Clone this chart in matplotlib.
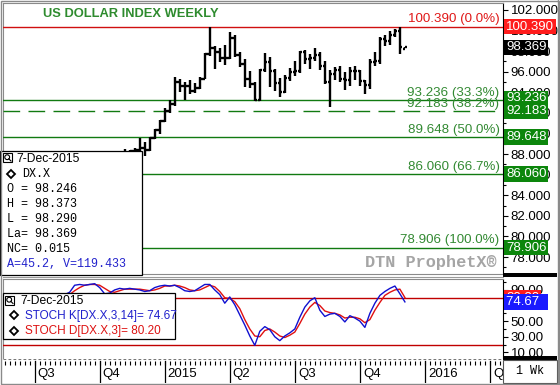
import matplotlib
matplotlib.use("Agg")
import matplotlib.pyplot as plt
import matplotlib.dates as mdates
import matplotlib.transforms as mtransforms
from matplotlib.ticker import MultipleLocator, FixedLocator, FormatStrFormatter
from matplotlib.patches import Rectangle, Circle
import pandas as pd

plt.rcParams["font.family"] = ["Liberation Sans", "DejaVu Sans"]

# Weekly bars (Monday dates) for the US dollar index
dates = pd.date_range("2014-05-19", "2015-12-07", freq="W-MON")
opens = [80.0, 80.4, 80.4, 80.6, 80.6, 80.4, 80.1, 80.2, 80.2, 80.6, 81.0, 81.4, 81.4, 81.4, 82.3,
         82.8, 84.0, 84.3, 84.8, 85.6, 86.7, 85.9, 85.2, 85.8, 86.9, 87.6, 87.6, 88.3, 88.4, 88.6,
         88.4, 89.6, 90.3, 91.2, 92.2, 92.9, 95.0, 94.6, 94.6, 94.1, 94.4, 95.3, 97.7, 98.3, 97.9,
         97.3, 97.3, 99.3, 97.6, 96.8, 95.3, 94.8, 93.3, 96.2, 96.9, 96.1, 94.9, 94.0, 95.4, 96.0,
         96.1, 97.9, 97.2, 97.3, 97.6, 96.6, 95.0, 95.8, 96.2, 95.3, 95.2, 96.1, 96.1, 95.1, 94.7,
         96.9, 97.0, 99.2, 99.0, 99.6, 100.0, 98.246]
highs = [80.4, 80.8, 80.8, 80.8, 80.9, 80.5, 80.4, 80.4, 80.7, 81.1, 81.5, 81.7, 81.7, 82.4, 82.8,
         84.1, 84.4, 84.9, 85.9, 86.8, 86.7, 86.2, 86.0, 86.9, 88.2, 88.5, 88.4, 88.6, 89.6, 89.2,
         89.7, 90.4, 91.3, 92.5, 93.3, 95.5, 95.3, 95.0, 95.2, 94.9, 95.5, 97.8, 100.39, 98.5, 98.3,
         98.6, 99.9, 99.6, 97.9, 97.2, 96.1, 95.0, 96.3, 97.8, 97.4, 96.3, 95.4, 95.7, 96.4, 97.0,
         98.0, 98.1, 97.7, 98.3, 97.9, 97.0, 96.2, 96.5, 96.6, 96.0, 96.5, 96.6, 96.2, 95.2, 97.2,
         97.9, 99.4, 99.6, 100.0, 100.2, 100.35, 98.373]
lows = [79.9, 80.3, 80.1, 80.3, 80.3, 80.0, 79.8, 80.0, 80.1, 80.5, 80.9, 81.2, 81.3, 81.3, 82.2,
        82.7, 83.9, 83.9, 84.8, 85.3, 85.2, 84.5, 85.0, 85.4, 86.8, 87.5, 87.6, 87.7, 87.7, 87.8,
        88.3, 89.5, 90.0, 91.1, 92.0, 92.7, 94.0, 93.3, 93.8, 93.9, 94.3, 95.3, 97.5, 96.3, 96.9,
        96.7, 97.2, 97.4, 96.5, 94.5, 94.4, 93.2, 93.2, 96.0, 94.5, 94.1, 93.5, 93.9, 95.1, 95.6,
        95.9, 96.8, 96.3, 97.0, 96.2, 94.8, 92.6, 95.2, 95.0, 94.2, 94.6, 95.2, 94.6, 93.8, 94.3,
        96.6, 96.8, 98.5, 98.6, 99.4, 97.7, 98.290]
closes = [80.4, 80.4, 80.6, 80.6, 80.4, 80.1, 80.2, 80.2, 80.6, 81.0, 81.4, 81.4, 81.4, 82.3, 82.8,
          84.0, 84.3, 84.8, 85.6, 86.7, 85.9, 85.2, 85.8, 86.9, 87.6, 87.6, 88.3, 88.4, 88.6, 88.4,
          89.6, 90.3, 91.2, 92.2, 92.9, 95.0, 94.6, 94.6, 94.1, 94.4, 95.3, 97.7, 98.3, 97.9, 97.3,
          97.3, 99.3, 97.6, 96.8, 95.3, 94.8, 93.3, 96.2, 96.9, 96.1, 94.9, 94.0, 95.4, 96.0, 96.1,
          97.9, 97.2, 97.3, 97.6, 96.6, 95.0, 95.8, 96.2, 95.3, 95.2, 96.1, 96.1, 95.1, 94.7, 96.9,
          97.0, 99.2, 99.0, 99.6, 100.0, 98.4, 98.369]

# Stochastic %K (14,3) and %D (3)
stoch_k = [55, 62, 66, 70, 64, 52, 45, 46, 58, 70, 78, 80, 80, 84, 87,
           96, 97, 96, 97, 98, 93, 85, 86, 90, 92, 91, 92, 91, 90, 88,
           89, 93, 95, 96, 95, 96, 93, 89, 88, 89, 93, 97, 97, 90, 84,
           73, 81, 71, 58, 45, 31, 19, 37, 43, 39, 30, 25, 31, 35, 40,
           55, 68, 76, 80, 64, 56, 59, 60, 56, 49, 57, 54, 50, 42, 60,
           73, 83, 88, 92, 95, 85, 74.67]
stoch_d = [50, 56, 61, 66, 67, 62, 54, 48, 50, 58, 69, 76, 79, 81, 84,
           89, 93, 96, 97, 97, 96, 92, 88, 87, 89, 91, 91, 91, 91, 90,
           89, 90, 92, 95, 95, 96, 95, 93, 90, 89, 90, 93, 96, 94, 88,
           80, 79, 75, 66, 52, 40, 31, 30, 38, 40, 36, 31, 29, 32, 36,
           47, 59, 68, 74, 70, 63, 61, 60, 58, 54, 55, 55, 53, 48, 52,
           64, 74, 83, 87, 90, 91, 80.20]

fib_levels = [100.390, 93.236, 92.183, 89.648, 86.060, 78.906]
fib_pcts = ["0.0%", "33.3%", "38.2%", "50.0%", "66.7%", "100.0%"]
last_price = 98.369

quarter_starts = ["2014-07-07", "2014-10-06", "2015-01-05", "2015-04-06",
                  "2015-07-06", "2015-10-05", "2016-01-04", "2016-04-04"]
quarter_labels = ["Q3", "Q4", "2015", "Q2", "Q3", "Q4", "2016", "Q2"]

info_lines = ["O = 98.246", "H = 98.373", "L = 98.290", "La= 98.369", "NC= 0.015"]

# colours
GREEN_LINE = "#117a11"
GREEN_TEXT = "#338a33"
GREEN_TAG = "#0c860c"
RED_LINE = "#d01010"
RED_TEXT = "#e01818"

W, H = 560, 385
fig = plt.figure(figsize=(W / 100, H / 100), dpi=100, facecolor="white")


def frame(left, top, right, bottom):
    return [left / W, 1 - bottom / H, (right - left) / W, (bottom - top) / H]


ax = fig.add_axes(frame(3, 3, 503, 274))
ax2 = fig.add_axes(frame(3, 279, 503, 359), sharex=ax)
ax3 = fig.add_axes(frame(3, 359, 503, 383), sharex=ax)

x = mdates.date2num(dates)
half = 3.2  # days for open/close ticks

# price bars
ax.vlines(x, lows, highs, color="black", lw=1.7, zorder=5)
ax.hlines(opens, x - half, x, color="black", lw=1.7, zorder=5)
ax.hlines(closes, x, x + half, color="black", lw=1.7, zorder=5)

ax.set_xlim(mdates.date2num(pd.Timestamp("2014-05-23 19:00")),
            mdates.date2num(pd.Timestamp("2016-04-22 05:00")))
ax.set_ylim(76.35, 102.68)

# fibonacci retracements
for lvl, pct in zip(fib_levels, fib_pcts):
    col = RED_LINE if pct == "0.0%" else GREEN_LINE
    tcol = RED_TEXT if pct == "0.0%" else GREEN_TEXT
    ls = (0, (12, 6)) if pct == "38.2%" else "-"
    ax.axhline(lvl, color=col, lw=1.0, ls=ls, zorder=3)
    ax.annotate("%.3f (%s)" % (lvl, pct), xy=(1, lvl), xycoords=("axes fraction", "data"),
                xytext=(-2.5, 3.2), textcoords="offset points", ha="right", va="baseline",
                color=tcol, fontsize=9.6, zorder=6)

# right price axis
ax.yaxis.tick_right()
ax.yaxis.set_major_locator(MultipleLocator(2))
ax.yaxis.set_minor_locator(MultipleLocator(1))
ax.yaxis.set_major_formatter(FormatStrFormatter("%.3f"))
ax.tick_params(axis="y", which="major", length=3.5, width=0.8, pad=2, labelsize=9.5, direction="out")
ax.tick_params(axis="y", which="minor", length=2, width=0.8)
ax.tick_params(axis="x", which="both", bottom=False, labelbottom=False)
for s in ["left", "top", "bottom"]:
    ax.spines[s].set_color("#8a8a8a")
ax.spines["right"].set_color("black")

blend = mtransforms.blended_transform_factory(ax.transAxes, ax.transData)
tag_nudge = {93.236: 0.17, 92.183: 0.0}


def tag(a, tr, v, text, fc, nudge=0.0, z=20):
    a.text(1.006, v + nudge, text, transform=tr, ha="left", va="center", color="white",
           fontsize=9.5, clip_on=False, zorder=z,
           bbox=dict(boxstyle="square,pad=0.13", fc=fc, ec="none"))


tag(ax, blend, fib_levels[0], "%.3f" % fib_levels[0], "#ff1c1c")
tag(ax, blend, last_price, "%.3f" % last_price, "black")
for lvl in fib_levels[1:]:
    tag(ax, blend, lvl, "%.3f" % lvl, GREEN_TAG, tag_nudge.get(lvl, 0.0))

# stochastic panel
ax2.plot(x, stoch_d, color="#e01010", lw=1.0, zorder=4)
ax2.plot(x, stoch_k, color="#1010d0", lw=1.0, zorder=5)
ax2.axhline(80, color="#c00000", lw=1.0, zorder=3)
ax2.axhline(20, color="#c00000", lw=1.0, zorder=3)
ax2.set_ylim(1.5, 104)
ax2.yaxis.tick_right()
ax2.yaxis.set_major_locator(FixedLocator([10, 30, 50, 70, 90]))
ax2.yaxis.set_minor_locator(FixedLocator([20, 40, 60, 80, 100]))
ax2.yaxis.set_major_formatter(FormatStrFormatter("%.2f"))
ax2.tick_params(axis="y", which="major", length=3.5, width=0.8, pad=2, labelsize=9.5)
ax2.tick_params(axis="y", which="minor", length=2, width=0.8)
ax2.tick_params(axis="x", which="both", bottom=False, labelbottom=False)
for s in ["left", "top"]:
    ax2.spines[s].set_color("#8a8a8a")
ax2.spines["bottom"].set_visible(False)
blend2 = mtransforms.blended_transform_factory(ax2.transAxes, ax2.transData)
tag(ax2, blend2, stoch_d[-1], "%.2f" % stoch_d[-1], "#ff1c1c", z=20)
tag(ax2, blend2, stoch_k[-1], "%.2f  " % stoch_k[-1], "#1a1aff", z=21)

# date strip
ax3.set_ylim(0, 1)
ax3.set_yticks([])
for s in ["left", "right", "bottom", "top"]:
    ax3.spines[s].set_visible(False)
ax3.axhline(0.98, color="#777777", lw=0.8, ls=(0, (2.5, 2)))
ax3.set_xticks(mdates.date2num(pd.date_range("2014-05-26", "2016-04-18", freq="W-MON")), minor=True)
ax3.set_xticks([])
ax3.tick_params(axis="x", which="minor", top=True, bottom=False, direction="in", length=3, width=0.8)
ax3.spines["top"].set_position(("axes", 0.9))
for qd, ql in zip(quarter_starts, quarter_labels):
    qx = mdates.date2num(pd.Timestamp(qd))
    ax3.axvline(qx, ymin=0, ymax=0.9, color="black", lw=0.9)
    ax3.annotate(ql, xy=(qx, 0.38), xycoords="data", xytext=(2.2, 0), textcoords="offset points",
                 ha="left", va="center", fontsize=9.5, annotation_clip=False, clip_on=True)

# overlay in pixel coordinates
ov = fig.add_axes([0, 0, 1, 1], zorder=10)
ov.set_xlim(0, W)
ov.set_ylim(H, 0)
ov.set_axis_off()

ov.text(131, 14, "US DOLLAR INDEX WEEKLY", ha="center", va="center", color="#2e8b2e",
        fontsize=9.3, fontweight="bold")
ov.text(497, 263, "DTN ProphetX®", ha="right", va="center", color="#a5a5a5",
        fontsize=12.2, fontweight="bold", family=["Liberation Mono", "DejaVu Sans Mono"])


def magnifier(px, py):
    ov.add_patch(Rectangle((px, py), 9, 9, fc="white", ec="black", lw=0.8))
    ov.add_patch(Circle((px + 4.2, py + 4.2), 2.4, fc="none", ec="black", lw=0.8))
    ov.plot([px + 5.8, px + 8], [py + 5.8, py + 8], color="black", lw=0.8)


def diamond(px, py):
    ov.plot([px], [py], marker="D", ms=4.2, mfc="white", mec="black", mew=1.3)


# price info box
ov.add_patch(Rectangle((0, 150.5), 141.5, 124, fc="white", ec="black", lw=0.9))
magnifier(3, 153)
ov.text(16, 158.5, "7-Dec-2015", ha="left", va="center", fontsize=8.7)
diamond(11, 174)
mono = ["Liberation Mono", "DejaVu Sans Mono"]
ov.text(22, 174, "DX.X", ha="left", va="center", fontsize=8.5, family=mono)
for i, ln in enumerate(info_lines):
    ov.text(7, 189 + 15 * i, ln, ha="left", va="center", fontsize=8.5, family=mono)
ov.text(7, 264, "A=45.2, V=119.433", ha="left", va="center", fontsize=8.5, family=mono,
        color="#2222cc")

# stochastic info box
ov.add_patch(Rectangle((3, 293), 172, 46, fc="white", ec="black", lw=0.9))
magnifier(5, 295.5)
ov.text(20, 301, "7-Dec-2015", ha="left", va="center", fontsize=8.7)
diamond(13.5, 315)
ov.text(25, 315.5, "STOCH K[DX.X,3,14]= %.2f" % stoch_k[-1], ha="left", va="center",
        fontsize=8.5, color="#2020cc")
diamond(13.5, 330.5)
ov.text(25, 331, "STOCH D[DX.X,3]= %.2f" % stoch_d[-1], ha="left", va="center",
        fontsize=8.5, color="#dd1111")

# separators, corner box and outer frame
ov.add_patch(Rectangle((503, 273), 54, 4, fc="black", ec="none"))
ov.add_patch(Rectangle((503, 356), 54, 3.5, fc="black", ec="none"))
ov.plot([3, 503], [276.5, 276.5], color="#9a9a9a", lw=0.8)
ov.add_patch(Rectangle((503, 360), 54, 23, fc="white", ec="#555555", lw=0.8))
ov.text(530, 371.5, "1 Wk", ha="center", va="center", fontsize=8.5, family=mono)
ov.add_patch(Rectangle((0.5, 0.5), 558.5, 383.5, fc="none", ec="#8a8a8a", lw=1.0))
ov.plot([557.5, 557.5], [0, 385], color="#8a8a8a", lw=1.0)

fig.savefig("out.png", dpi=100, facecolor="white")
